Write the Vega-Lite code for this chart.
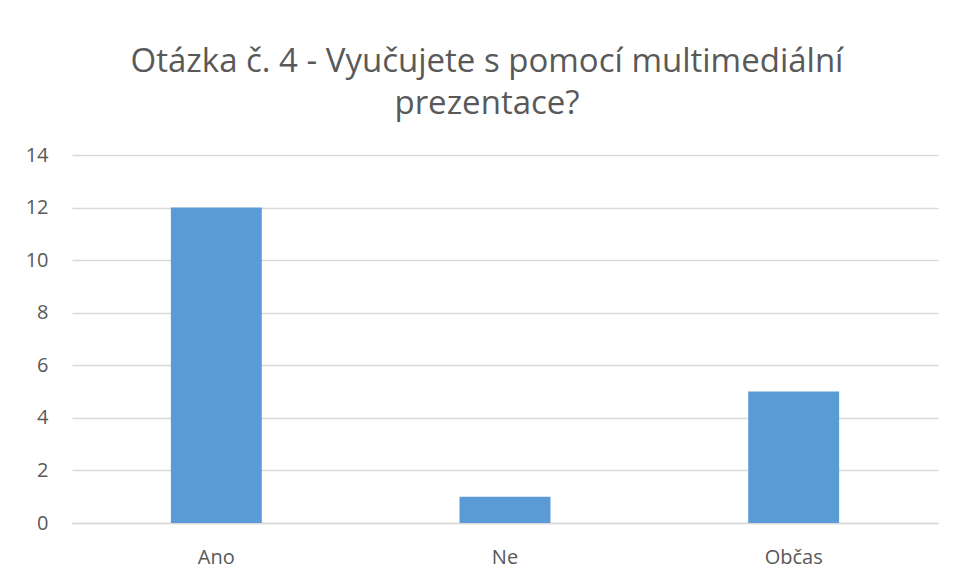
{
  "$schema": "https://vega.github.io/schema/vega-lite/v6.json",
  "width": 866,
  "height": 368,
  "autosize": {"type": "none"},
  "padding": {"left": 72, "top": 155, "right": 18, "bottom": 55},
  "background": "white",
  "title": {
    "text": ["Otázka č. 4 - Vyučujete s pomocí multimediální", "prezentace?"],
    "font": "Open Sans",
    "fontSize": 33,
    "fontWeight": "normal",
    "color": "#595959",
    "anchor": "middle",
    "dx": -18,
    "offset": 24,
    "lineHeight": 42
  },
  "data": {
    "values": [
      {"odpoved": "Ano", "pocet": 12},
      {"odpoved": "Ne", "pocet": 1},
      {"odpoved": "Občas", "pocet": 5}
    ]
  },
  "mark": {"type": "bar", "color": "#5B9BD5"},
  "encoding": {
    "x": {
      "field": "odpoved",
      "type": "nominal",
      "sort": null,
      "scale": {"paddingInner": 0.685, "paddingOuter": 0.3425},
      "axis": {
        "title": null,
        "labelAngle": 0,
        "ticks": false,
        "domain": true,
        "domainColor": "#d9d9d9",
        "domainWidth": 1.5,
        "labelFont": "Open Sans",
        "labelFontSize": 20,
        "labelColor": "#595959",
        "labelPadding": 24
      }
    },
    "y": {
      "field": "pocet",
      "type": "quantitative",
      "scale": {"domain": [0, 14]},
      "axis": {
        "title": null,
        "values": [0, 2, 4, 6, 8, 10, 12, 14],
        "ticks": false,
        "domain": false,
        "gridColor": "#d9d9d9",
        "gridWidth": 1.5,
        "labelFont": "Open Sans",
        "labelFontSize": 20,
        "labelColor": "#595959",
        "labelPadding": 24
      }
    }
  },
  "config": {"view": {"stroke": null}}
}
